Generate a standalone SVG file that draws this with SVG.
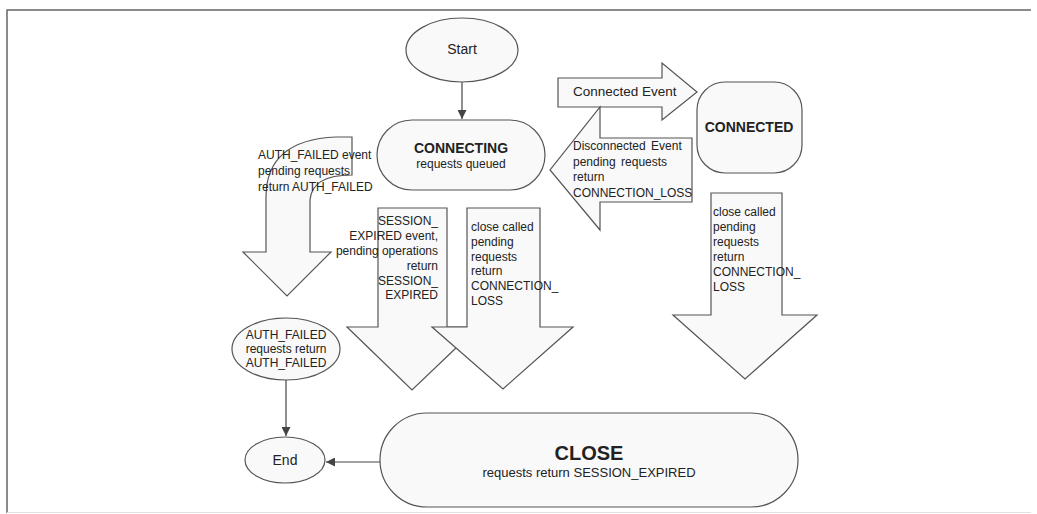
<svg xmlns="http://www.w3.org/2000/svg" width="1037" height="514" viewBox="0 0 1037 514">
<defs>
<style>
.shape{fill:#f9f9f9;stroke:#555;stroke-width:1.2}
.barrow{fill:#f9f9f9;stroke:#555;stroke-width:1.2;stroke-linejoin:miter}
.line{fill:none;stroke:#444;stroke-width:1.2}
.frame{fill:none;stroke:#666;stroke-width:1.5}
text{font-family:"Liberation Sans",Arial,sans-serif;fill:#222}
.t12{font-size:12px}
.t14{font-size:14px}
.b14{font-size:14px;font-weight:bold}
</style>
<marker id="ah" viewBox="0 0 10 10" refX="10" refY="5" markerWidth="9" markerHeight="9" markerUnits="userSpaceOnUse" orient="auto">
<path d="M0,0 L10,5 L0,10 z" fill="#444"/>
</marker>
</defs>
<rect width="1037" height="514" fill="#fff"/>
<path class="frame" d="M7,513 L7,10 L1031,10"/>
<line x1="7" y1="512.5" x2="1031" y2="512.5" stroke="#e2e2e2" stroke-width="1"/>

<g id="connectors">
<line class="line" x1="462" y1="82" x2="462" y2="119" marker-end="url(#ah)"/>
<line class="line" x1="286" y1="380" x2="286" y2="436" marker-end="url(#ah)"/>
<line class="line" x1="380" y1="462" x2="326" y2="462" marker-end="url(#ah)"/>

<g id="arrow-auth-failed">
<path class="barrow" d="M352,137 L336,137 Q266,140 266,197 L266,252 L243,252 L287,296 L331,252 L310,252 L310,200 Q312,175 352,175 Z"/>
<text class="t12" x="258" y="159">AUTH_FAILED event</text>
<text class="t12" x="258" y="175">pending requests</text>
<text class="t12" x="258" y="191">return AUTH_FAILED</text>
</g>

<g id="arrow-session-expired">
<path class="barrow" d="M378,208 L447,208 L447,327 L478,327 L412,390 L347,327 L378,327 Z"/>
<g class="t12" text-anchor="end">
<text x="438" y="225">SESSION_</text>
<text x="438" y="240">EXPIRED event,</text>
<text x="438" y="255">pending operations</text>
<text x="438" y="270">return</text>
<text x="438" y="285">SESSION_</text>
<text x="438" y="299">EXPIRED</text>
</g>
</g>

<g id="arrow-close-connecting">
<path class="barrow" d="M467,208 L540,208 L540,327 L573,327 L503,389 L432,327 L467,327 Z"/>
<g class="t12">
<text x="471" y="231">close called</text>
<text x="471" y="246">pending</text>
<text x="471" y="261">requests</text>
<text x="471" y="275">return</text>
<text x="471" y="290">CONNECTION_</text>
<text x="471" y="305">LOSS</text>
</g>
</g>

<g id="arrow-close-connected">
<path class="barrow" d="M711,193 L782,193 L782,315 L817,315 L745,379 L673,315 L711,315 Z"/>
<g class="t12">
<text x="713" y="216">close called</text>
<text x="713" y="231">pending</text>
<text x="713" y="246">requests</text>
<text x="713" y="261">return</text>
<text x="713" y="276">CONNECTION_</text>
<text x="713" y="291">LOSS</text>
</g>
</g>

<g id="arrow-connected-event">
<path class="barrow" d="M558,78 L662,78 L662,63 L697,92 L662,120 L662,107 L558,107 Z"/>
<text x="573" y="96" style="font-size:13.5px">Connected Event</text>
</g>

<g id="arrow-disconnected-event">
<path class="barrow" d="M692,138 L600,138 L600,107 L550,170 L600,230 L600,202 L692,202 Z"/>
<g class="t12">
<text x="573" y="150" word-spacing="2">Disconnected Event</text>
<text x="573" y="166" word-spacing="2">pending requests</text>
<text x="573" y="181">return</text>
<text x="573" y="197">CONNECTION_LOSS</text>
</g>
</g>
</g>

<g id="node-start">
<ellipse class="shape" cx="462" cy="50" rx="56" ry="32"/>
<text class="t14" x="462" y="54" text-anchor="middle">Start</text>
</g>

<g id="node-connecting">
<rect class="shape" x="377" y="120" width="168" height="70" rx="35" ry="35"/>
<text class="b14" x="461" y="153" text-anchor="middle">CONNECTING</text>
<text class="t12" x="461" y="168" text-anchor="middle">requests queued</text>
</g>

<g id="node-connected">
<rect class="shape" x="697" y="82" width="105" height="91" rx="28" ry="28"/>
<text class="b14" x="749" y="132" text-anchor="middle">CONNECTED</text>
</g>

<g id="node-auth-failed">
<ellipse class="shape" cx="286" cy="349" rx="54" ry="31"/>
<g class="t12" text-anchor="middle">
<text x="286" y="339">AUTH_FAILED</text>
<text x="286" y="353">requests return</text>
<text x="286" y="367">AUTH_FAILED</text>
</g>
</g>

<g id="node-end">
<ellipse class="shape" cx="285" cy="460" rx="40" ry="23"/>
<text class="t14" x="285" y="465" text-anchor="middle">End</text>
</g>

<g id="node-close">
<rect class="shape" x="380" y="413" width="418" height="94" rx="47" ry="47"/>
<text x="589" y="460" text-anchor="middle" style="font-size:20px;font-weight:bold">CLOSE</text>
<text x="589" y="477" text-anchor="middle" style="font-size:13px">requests return SESSION_EXPIRED</text>
</g>
</svg>
